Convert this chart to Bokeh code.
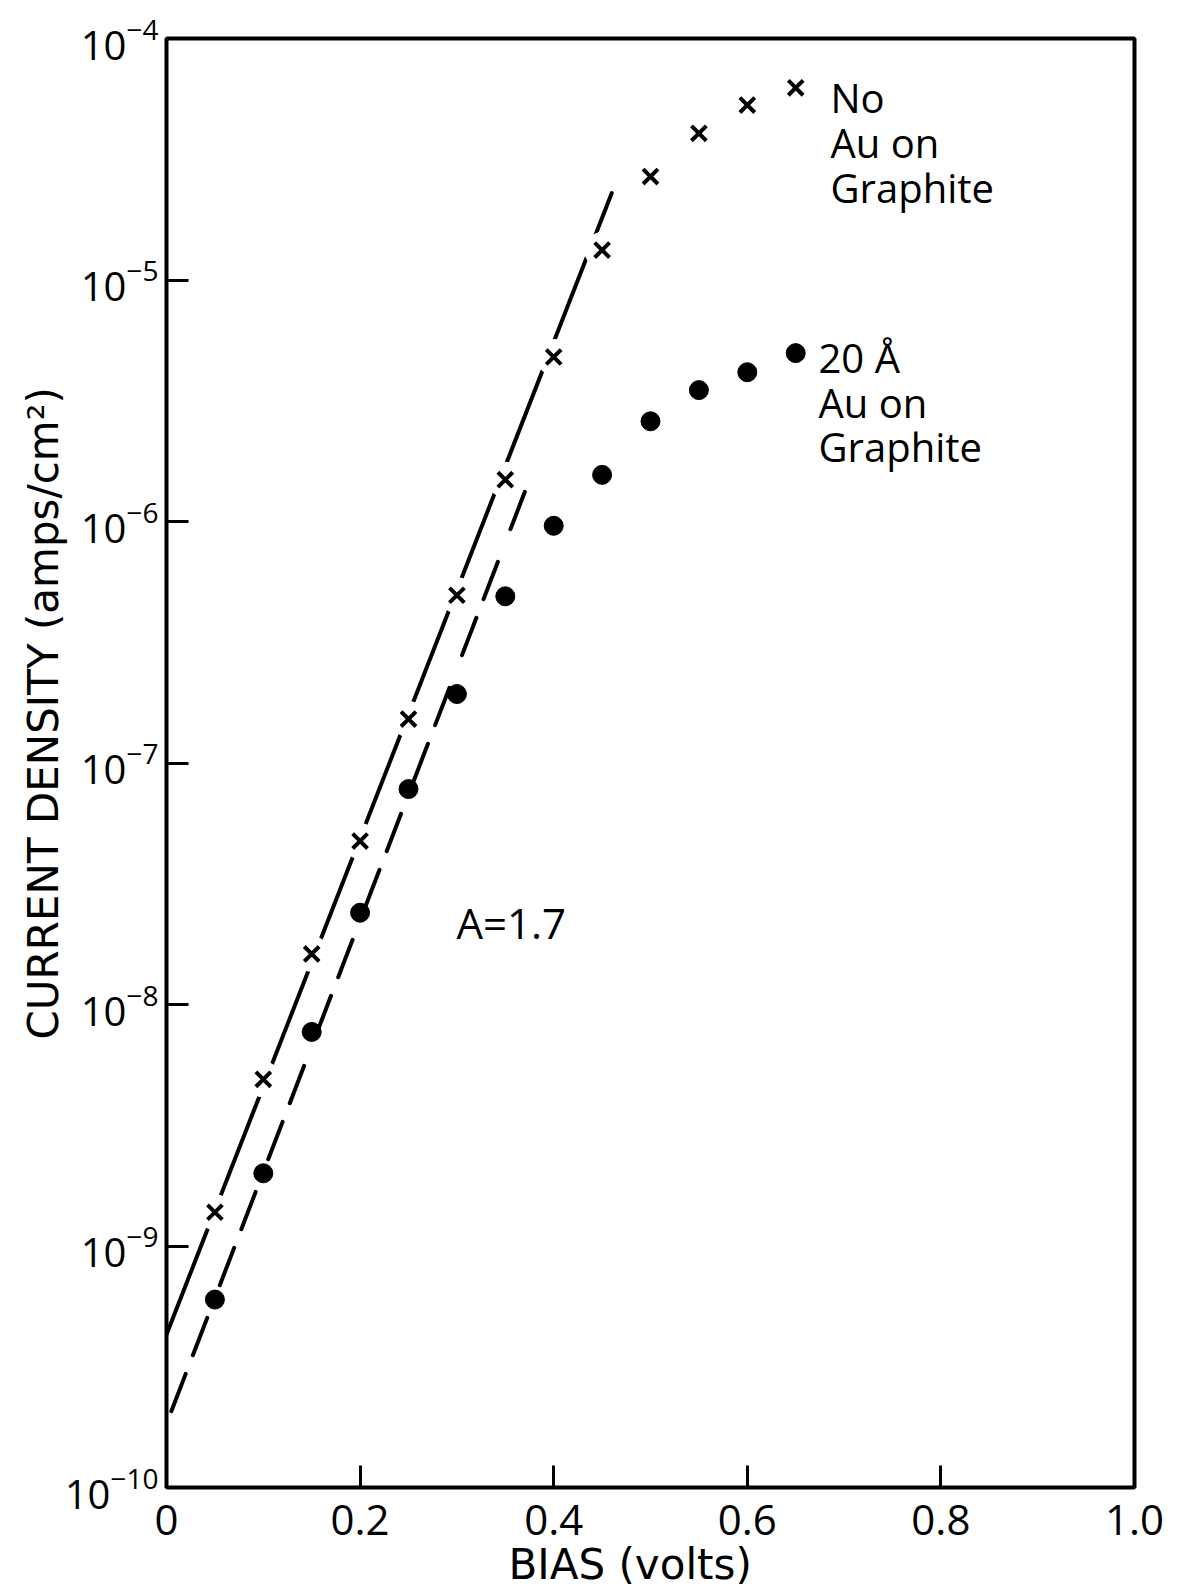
import math
from bokeh.plotting import figure
from bokeh.models import Range1d, FixedTicker, CustomJSTickFormatter, Label, Title
from bokeh.embed import file_html
from bokeh.resources import INLINE

# ---- data ----
bias = [0.05, 0.10, 0.15, 0.20, 0.25, 0.30, 0.35, 0.40, 0.45, 0.50, 0.55, 0.60, 0.65]
no_au = [1.38e-9, 4.9e-9, 1.62e-8, 4.75e-8, 1.52e-7, 4.95e-7, 1.49e-6, 4.8e-6,
         1.33e-5, 2.68e-5, 4.05e-5, 5.3e-5, 6.25e-5]
au_20 = [6.0e-10, 2.0e-9, 7.7e-9, 2.4e-8, 7.8e-8, 1.93e-7, 4.9e-7, 9.6e-7,
         1.56e-6, 2.6e-6, 3.5e-6, 4.15e-6, 4.98e-6]
fit_no_au_x = [0.0, 0.46]
fit_no_au_y = [4.3e-10, 2.29e-5]
fit_au_x = [0.005, 0.373]
fit_au_y = [2.07e-10, 1.42e-6]

x_ticks = [0.0, 0.2, 0.4, 0.6, 0.8, 1.0]
x_tick_labels = ["0", "0.2", "0.4", "0.6", "0.8", "1.0"]
y_ticks = [1e-10, 1e-9, 1e-8, 1e-7, 1e-6, 1e-5, 1e-4]

label_no_au = ["No", "Au on", "Graphite"]
label_au = ["20 Å", "Au on", "Graphite"]
label_a = "A=1.7"
x_title = "BIAS (volts)"
y_title = "CURRENT DENSITY (amps/cm²)"

# ---- layout ----
W, H = 1176, 1589
L, R, T, B = 166, 42, 38, 102
FW = W - L - R
FH = H - T - B
DEC = FH / 6.0


def to_x(px):
    return (px - L) / FW


def to_y(py):
    return 10 ** (-10 + (H - B - py) / DEC)


p = figure(width=W, height=H, x_range=Range1d(0, 1), y_range=Range1d(1e-10, 1e-4),
           y_axis_type="log", output_backend="svg", toolbar_location=None,
           min_border_left=L, min_border_right=R, min_border_top=T, min_border_bottom=B)
p.grid.visible = False
p.background_fill_color = "white"
p.border_fill_color = "white"
p.outline_line_color = "black"
p.outline_line_width = 4
p.outline_line_alpha = 1.0

for ax in (p.xaxis[0], p.yaxis[0]):
    ax.axis_line_color = None
    ax.major_tick_in = 22
    ax.major_tick_out = 0
    ax.major_tick_line_width = 3
    ax.major_tick_line_color = "black"
    ax.minor_tick_line_color = None
    ax.major_label_text_color = "black"

p.xaxis.ticker = FixedTicker(ticks=x_ticks)
p.xaxis.formatter = CustomJSTickFormatter(args=dict(tvals=x_ticks, tlabels=x_tick_labels), code="""
    let best = 0, d = 1e9;
    for (let i = 0; i < tvals.length; i++) {
        const e = Math.abs(tvals[i] - tick);
        if (e < d) { d = e; best = i; }
    }
    return tlabels[best];
""")
p.xaxis.major_label_text_font = "Open Sans"
p.xaxis.major_label_text_font_size = "42px"
p.xaxis.major_label_standoff = 17

p.yaxis.ticker = FixedTicker(ticks=y_ticks)
p.yaxis.major_label_text_font = "Open Sans"
p.yaxis.major_label_text_font_size = "40px"
p.yaxis.major_label_standoff = 8

# axis titles as side-panel titles so they can sit off-centre like the original
p.add_layout(Title(text=x_title, align="left", offset=342, standoff=0,
                   text_font="DejaVu Sans", text_font_size="42px",
                   text_font_style="normal", text_color="black"), "below")
p.add_layout(Title(text=y_title, align="left", offset=448, standoff=-12,
                   text_font="DejaVu Sans", text_font_size="42px",
                   text_font_style="normal", text_color="black"), "left")

# ---- fit lines ----
p.line(fit_no_au_x, fit_no_au_y, line_color="black", line_width=4, line_cap="round")
p.line(fit_au_x, fit_au_y, line_color="black", line_width=4, line_cap="round",
       line_dash="40 20 40 35")

# white halos break the solid line around each cross
p.scatter(bias, no_au, marker="circle", size=36, fill_color="white", line_color=None)

# ---- data markers ----
p.scatter(bias, no_au, marker="x", size=21, line_color="black", line_width=4)
p.scatter(bias, au_20, marker="circle", size=19, fill_color="black", line_color="black")

# ---- series annotations ----
SHIFT = 15
for i, s in enumerate(label_no_au):
    p.add_layout(Label(x=to_x(830), y=to_y(112 - SHIFT + 45 * i), text=s, text_align="left",
                       text_baseline="alphabetic", text_font="Open Sans",
                       text_font_size="40px", text_color="black"))
for i, s in enumerate(label_au):
    p.add_layout(Label(x=to_x(818), y=to_y(372 - SHIFT + 44.5 * i), text=s, text_align="left",
                       text_baseline="alphabetic", text_font="Open Sans",
                       text_font_size="40px", text_color="black"))
p.add_layout(Label(x=to_x(456), y=to_y(937 - SHIFT), text=label_a, text_align="left",
                   text_baseline="alphabetic", text_font="Open Sans",
                   text_font_size="42px", text_color="black"))

open("out.html", "w").write(file_html(p, INLINE))
